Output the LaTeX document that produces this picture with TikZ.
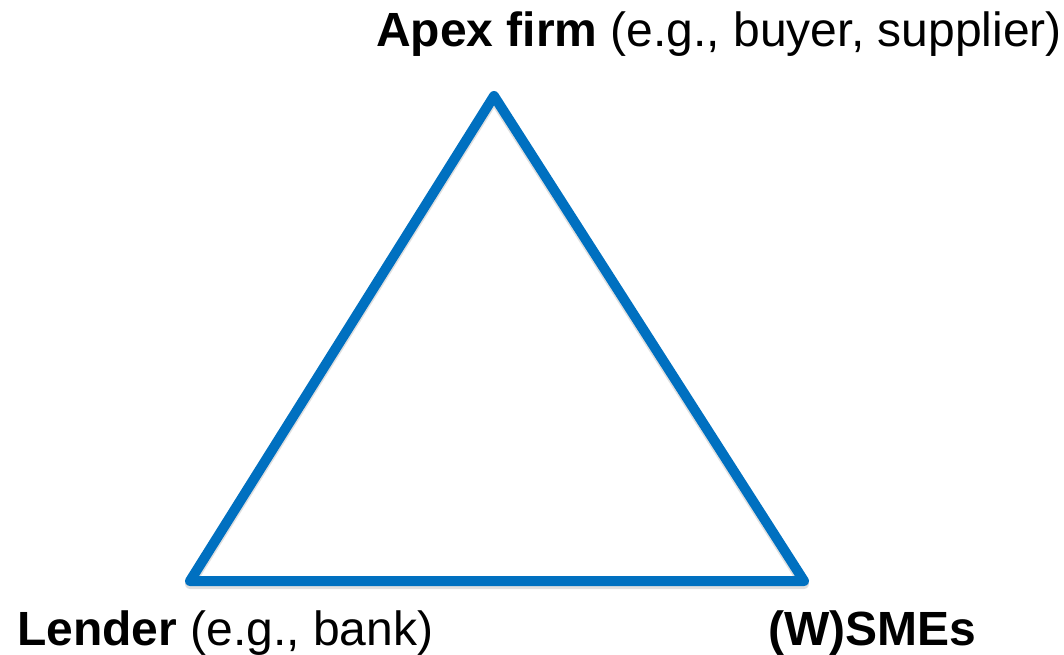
\documentclass[tikz,border=0pt]{standalone}
\usepackage{fontspec}
\setmainfont{Liberation Sans}
\definecolor{triblue}{HTML}{0070C0}
\begin{document}
\begin{tikzpicture}[x=1pt,y=1pt,
  lbl/.style={anchor=base west,inner sep=0pt,font=\fontsize{48}{56}\selectfont},
  edge/.style={draw=triblue,line width=10pt,line join=round,line cap=round}]
\useasboundingbox (0,0) rectangle (1064,654);
\coordinate (A) at (494,558);
\coordinate (L) at (190,73);
\coordinate (S) at (804,73);
\draw[black!25,line width=10pt,line join=round,opacity=0.5] ([yshift=-3pt]A) -- ([yshift=-3pt]S) -- ([yshift=-3pt]L) -- cycle;
\draw[edge] (A) -- (S) -- (L) -- cycle;
\node[lbl] (apex) at (376,607) {\textbf{Apex firm} (e.g., buyer, supplier)};
\node[lbl] (lender) at (17,9) {\textbf{Lender} (e.g., bank)};
\node[lbl] (smes) at (768,9) {\textbf{(W)SMEs}};
\end{tikzpicture}
\end{document}
